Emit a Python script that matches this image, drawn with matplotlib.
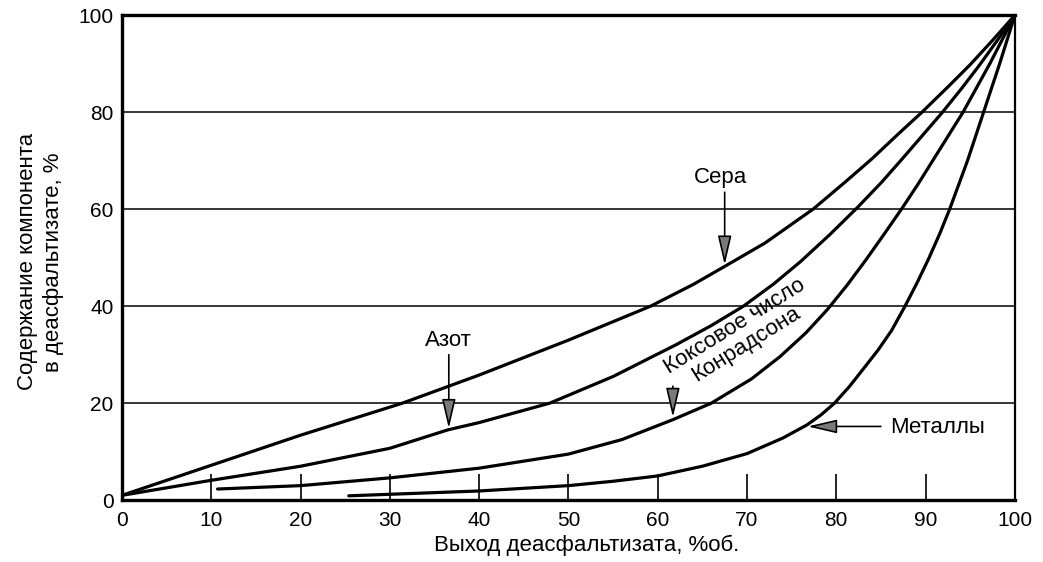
import matplotlib.pyplot as plt

plt.rcParams['font.family'] = ['Liberation Sans', 'DejaVu Sans']

# Выход деасфальтизата (% об.) и содержание компонента (%)
sera_x = [0, 10, 20, 31.4, 40, 50, 59.2, 64, 67.5, 72, 77.4, 81, 84, 87, 89.6, 92.5, 95, 97.5, 100]
sera_y = [1, 7.2, 13.4, 20, 25.8, 33, 40, 44.5, 48.2, 53, 60, 65.6, 70.4, 75.6, 80, 85.2, 89.8, 94.8, 100]

azot_x = [0, 10, 20, 30, 36.5, 40, 47.9, 55, 62, 66, 69.6, 73, 76, 79.3, 82.4, 85.1, 87.4, 89.7, 91.9, 94, 96, 98, 100]
azot_y = [1, 4.1, 7.0, 10.7, 14.5, 16, 20, 25.5, 32, 36, 40, 44.6, 49.2, 54.8, 60.4, 65.6, 70.4, 75.3, 80, 84.8, 89.6, 94.7, 100]

koks_x = [10.7, 20, 30, 40, 50, 56, 61.7, 66, 70.5, 73.7, 76.6, 79, 81.2, 83.3, 85.3, 87.3, 89.1, 90.8, 92.5, 94.2, 95.7, 97.2, 98.6, 100]
koks_y = [2.3, 3, 4.6, 6.6, 9.5, 12.5, 16.6, 20, 25, 29.6, 34.5, 39.3, 44.3, 49.5, 54.7, 60, 65, 70, 75, 80, 85, 90, 95, 100]

met_x = [25.4, 40, 50, 55, 60, 65, 70, 74, 76.7, 78.3, 79.8, 81.5, 83, 84.7, 86.2, 87.7, 89.1, 90.4, 91.6, 92.7,
         93.7, 94.7, 95.6, 96.5, 97.4, 98.3, 99.15, 100]
met_y = [0.9, 1.9, 3, 3.9, 5, 7, 9.6, 12.8, 15.5, 17.6, 20, 23.5, 27, 31, 35, 40, 45, 50, 55, 60,
         65, 70, 75, 80, 85, 90, 95, 100]

x_ticks = [0, 10, 20, 30, 40, 50, 60, 70, 80, 90, 100]
y_ticks = [0, 20, 40, 60, 80, 100]

fig = plt.figure(figsize=(10.43, 5.62), dpi=100)
ax = fig.add_axes([0.117, 0.110, 0.856, 0.863])

for yv in y_ticks[1:-1]:
    ax.axhline(yv, color='black', lw=1.1, zorder=1)

for xs, ys in [(sera_x, sera_y), (azot_x, azot_y), (koks_x, koks_y), (met_x, met_y)]:
    ax.plot(xs, ys, color='black', lw=2.3, solid_capstyle='round',
            solid_joinstyle='round', zorder=3)

ax.set_xlim(0, 100)
ax.set_ylim(0, 100)
ax.set_xticks(x_ticks)
ax.set_yticks(y_ticks)
ax.tick_params(axis='x', direction='in', length=19, width=1.2, pad=8, labelsize=15)
ax.tick_params(axis='y', length=0, pad=6, labelsize=15)

for side in ['left', 'bottom', 'top']:
    ax.spines[side].set_linewidth(2.4)
ax.spines['right'].set_linewidth(1.6)

ax.text(0.52, -0.104, 'Выход деасфальтизата, %об.', transform=ax.transAxes,
        ha='center', va='baseline', fontsize=16)
fig.text(0.039, 0.534, 'Содержание компонента\nв деасфальтизате, %', rotation=90,
         ha='center', va='center', fontsize=16, linespacing=1.35)

arrow = dict(arrowstyle='-|>,head_length=1.8,head_width=0.42', edgecolor='black',
             facecolor='#7a7a7a', lw=1.2, shrinkA=0, shrinkB=0)

ax.text(67, 66.5, 'Сера', ha='center', va='center', fontsize=16)
ax.annotate('', xy=(67.5, 48.5), xytext=(67.5, 63.5), arrowprops=arrow)

ax.text(36.6, 33, 'Азот', ha='center', va='center', fontsize=16)
ax.annotate('', xy=(36.6, 14.8), xytext=(36.6, 30), arrowprops=arrow)

ax.text(69.3, 34, 'Коксовое число\nКонрадсона', ha='center', va='center', fontsize=16,
        rotation=32, rotation_mode='anchor', linespacing=1.0)
ax.annotate('', xy=(61.7, 17.1), xytext=(61.7, 23.5), arrowprops=arrow)

ax.text(86, 15, 'Металлы', ha='left', va='center', fontsize=16)
ax.annotate('', xy=(76.8, 15.2), xytext=(85, 15.2), arrowprops=arrow)

fig.savefig('out.png', dpi=100)
